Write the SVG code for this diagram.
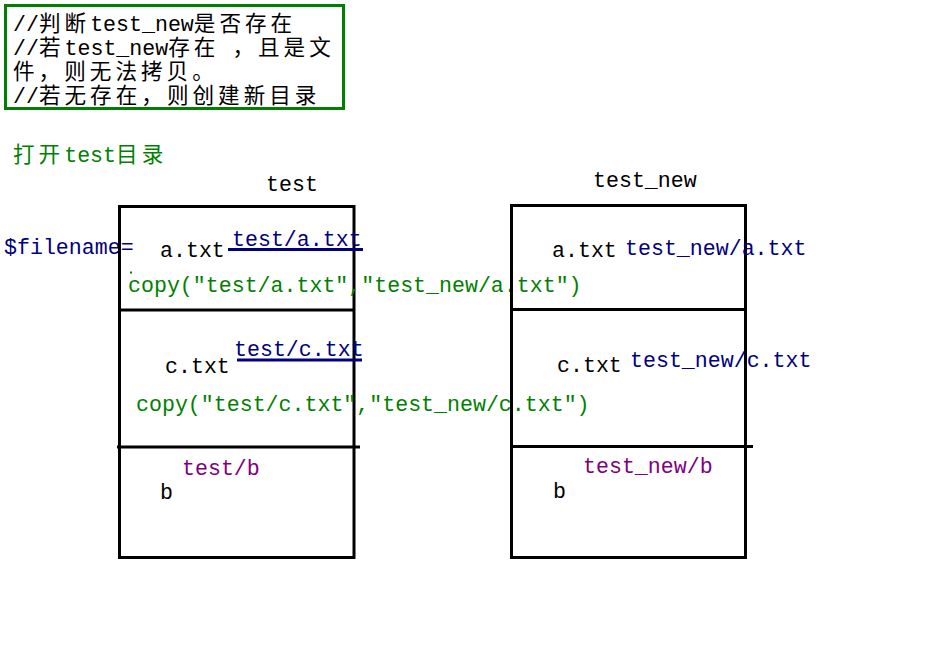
<svg xmlns="http://www.w3.org/2000/svg" width="942" height="655" viewBox="0 0 942 655">
<style>
text{font-family:"Liberation Mono","Noto Sans CJK SC",monospace;font-size:21.6px}
.c{letter-spacing:4px}
.k{fill:#000}
.g{fill:#008000}
.n{fill:#000080}
.p{fill:#800080}
.box{fill:none;stroke:#000;stroke-width:3}
.ul{stroke:#000080;stroke-width:3}
</style>
<rect width="942" height="655" fill="#fff"/>
<g id="note">
<rect x="5.5" y="5.5" width="338" height="103" fill="none" stroke="#008000" stroke-width="3"/>
<text class="k" x="13" y="31">//<tspan class="c">判断</tspan>test_new<tspan class="c">是否存在</tspan></text>
<text class="k" x="13" y="55">//<tspan class="c">若</tspan>test_new<tspan class="c">存在</tspan> <tspan class="c">，且是文</tspan></text>
<text class="k" x="13" y="79"><tspan class="c">件，则无法拷贝。</tspan></text>
<text class="k" x="13" y="103">//<tspan class="c">若无存在，则创建新目录</tspan></text>
</g>
<g id="title">
<text class="g" x="13" y="162"><tspan class="c">打开</tspan>test<tspan class="c">目录</tspan></text>
</g>
<g id="var">
<text class="n" x="4" y="254">$filename=</text>
</g>
<g id="dir-test">
<text class="k" x="266" y="191">test</text>
<rect class="box" x="119.5" y="206.5" width="234.5" height="351"/>
<line class="box" x1="119.5" y1="310" x2="354" y2="310"/>
<line class="box" x1="117" y1="447" x2="360" y2="447"/>
<text class="k" x="160" y="257">a.txt</text>
<text class="n" x="232" y="246">test/a.txt</text>
<rect x="130" y="271.5" width="2" height="2" fill="#008000"/>
<text class="g" x="128" y="292">copy("test/a.txt","test_new/a.txt")</text>
<text class="k" x="165" y="373">c.txt</text>
<text class="n" x="234" y="356">test/c.txt</text>
<text class="g" x="136" y="411">copy("test/c.txt","test_new/c.txt")</text>
<text class="p" x="182" y="475">test/b</text>
<text class="k" x="160" y="499">b</text>
</g>
<g id="dir-test_new">
<text class="k" x="593" y="187">test_new</text>
<rect class="box" x="511.5" y="205.5" width="234" height="352"/>
<line class="box" x1="511.5" y1="309.5" x2="745.5" y2="309.5"/>
<line class="box" x1="511.5" y1="446.5" x2="753" y2="446.5"/>
<text class="k" x="552" y="257">a.txt</text>
<text class="n" x="625" y="255">test_new/a.txt</text>
<text class="k" x="557" y="372">c.txt</text>
<text class="n" x="630" y="367">test_new/c.txt</text>
<text class="p" x="583" y="473">test_new/b</text>
<text class="k" x="553" y="498">b</text>
</g>
<g id="connectors">
<line class="ul" x1="228" y1="249.5" x2="363" y2="249.5"/>
<line class="ul" x1="237" y1="360" x2="362" y2="360"/>
</g>
</svg>
